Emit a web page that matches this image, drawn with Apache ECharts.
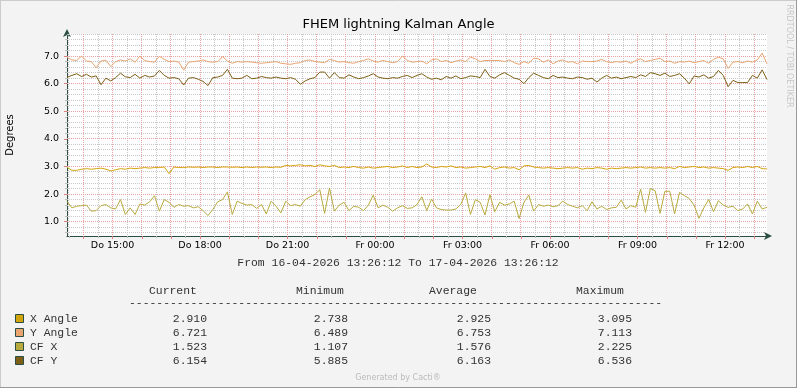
<!DOCTYPE html>
<html><head><meta charset="utf-8">
<script src="https://cdn.jsdelivr.net/npm/echarts@6/dist/echarts.min.js"></script>
<style>html,body{margin:0;padding:0;background:#F3F3F3}#c{width:797px;height:388px}</style>
</head><body><div id="c"></div>
<script>
const TITLE = 'FHEM lightning Kalman Angle';
const Y_NAME = 'Degrees';
const RANGE_TEXT = 'From 16-04-2026 13:26:12 To 17-04-2026 13:26:12';
const START_MIN = 806.2;   // 16-04-2026 13:26:12, minutes after 16-04 00:00
const STEP_MIN = 10;
const SPAN_MIN = 1440;
const xTickValues = [900, 1080, 1260, 1440, 1620, 1800, 1980, 2160];
const xTickLabels = ['Do 15:00','Do 18:00','Do 21:00','Fr 00:00','Fr 03:00','Fr 06:00','Fr 09:00','Fr 12:00'];
const yTickValues = [1, 2, 3, 4, 5, 6, 7];
const yTickLabels = ['1.0','2.0','3.0','4.0','5.0','6.0','7.0'];
const Y_MIN = 0.48, Y_MAX = 7.8;

const seriesNames = ['X Angle', 'Y Angle', 'CF X', 'CF Y'];
const seriesColors = ['#D2A50C', '#E9A470', '#B9AA3E', '#7E5F16'];

const xAngle = [
2.97,2.86,2.86,2.90,2.92,2.90,2.92,2.94,2.90,2.84,
2.88,2.92,2.90,2.94,2.92,2.94,2.96,2.94,2.96,2.96,
2.98,2.74,2.98,2.96,2.96,2.98,2.97,2.98,2.96,2.98,
2.98,2.96,2.98,2.98,2.97,2.98,2.96,2.98,2.96,2.98,
2.97,2.98,2.96,2.98,2.97,3.04,3.02,3.04,3.06,3.02,
3.04,3.00,3.06,3.02,3.00,3.04,2.96,2.98,2.96,3.00,
2.96,2.94,2.98,2.94,2.96,2.98,3.00,2.96,2.98,3.02,
2.96,3.00,
2.96,2.98,3.09,2.98,2.96,3.00,2.98,3.02,2.96,2.98,
2.94,2.96,2.98,3.00,2.96,3.02,2.90,2.96,2.98,2.94,
2.96,2.88,3.02,3.04,2.98,2.96,2.94,2.96,2.94,2.92,
2.94,2.96,2.94,2.96,2.90,2.94,2.92,2.96,2.94,2.90,
2.94,2.92,2.94,2.96,2.94,2.96,2.98,2.94,2.96,2.94,
2.96,2.94,2.96,2.92,3.00,2.96,2.98,3.00,2.96,2.98,
2.94,2.96,2.94,2.92,2.86,2.96,2.98,2.96,3.00,2.96,
3.00,2.92,2.91];

const yAngle = [
6.95,6.86,6.84,7.00,6.82,6.80,6.58,6.82,6.85,6.62,
6.80,6.86,6.82,6.90,6.78,7.00,6.84,6.80,6.78,6.99,
6.88,6.80,6.82,6.78,6.49,6.78,6.80,6.82,6.86,6.80,
6.78,6.80,6.98,6.82,6.74,6.80,6.78,6.80,6.78,6.76,
6.74,6.76,6.78,6.80,6.74,6.72,6.70,6.74,6.76,6.84,
6.86,6.80,6.78,6.76,6.88,6.84,6.78,6.80,6.76,6.74,
6.80,6.84,6.90,6.82,6.78,6.84,6.80,6.76,6.80,7.00,
6.84,6.78,
6.80,6.82,6.72,6.86,6.90,6.80,6.84,6.76,6.82,6.86,
6.80,6.96,6.90,6.80,6.84,6.84,6.84,6.84,6.80,6.86,
6.76,6.70,6.80,6.74,6.92,6.90,6.78,6.86,6.72,6.82,
6.86,6.78,6.80,6.72,6.82,6.80,6.80,6.82,6.88,6.80,
6.76,6.80,6.78,6.82,6.74,6.84,6.90,6.80,6.84,6.88,
6.92,6.80,6.82,6.74,6.80,6.78,6.82,6.76,6.80,6.84,
6.74,6.88,6.96,6.90,6.55,6.78,6.80,6.76,6.82,6.78,
6.86,7.11,6.72];

const cfX = [
1.74,1.50,1.56,1.58,1.60,1.38,1.40,1.58,1.62,1.50,
1.46,1.80,1.26,1.50,1.26,1.64,1.60,1.72,1.94,1.38,
1.80,1.70,1.52,1.62,1.56,1.58,1.50,1.54,1.40,1.22,
1.44,1.72,1.80,2.08,1.26,1.74,1.66,1.60,1.62,1.48,
1.62,1.28,1.74,1.56,1.32,1.74,1.58,1.62,1.56,1.80,
1.90,1.98,2.16,1.30,2.22,1.38,1.60,1.70,1.40,1.56,
1.52,1.40,1.60,1.96,1.50,1.60,1.52,1.38,1.50,1.58,
1.48,1.50,
1.62,1.90,1.40,1.82,1.50,1.44,1.42,1.42,1.46,1.62,
2.04,1.26,1.80,1.70,1.24,1.98,1.36,1.70,1.60,1.64,
1.74,1.11,1.70,1.96,1.38,1.62,1.56,1.60,1.54,1.58,
1.74,1.62,1.56,1.50,1.58,1.40,1.72,1.46,1.56,1.44,
1.50,1.52,1.78,1.46,1.58,1.52,2.18,1.34,2.20,2.12,
1.30,2.10,2.10,1.28,2.06,1.94,1.84,1.60,1.12,1.50,
1.80,1.36,1.76,1.60,1.52,1.56,1.40,1.46,1.64,1.28,
1.74,1.46,1.52];

const cfY = [
6.23,6.30,6.36,6.26,6.34,6.24,6.28,5.96,6.20,6.10,
6.22,6.38,6.25,6.22,6.34,6.20,6.30,6.24,6.28,6.48,
6.30,6.20,6.22,6.18,5.95,6.20,6.22,6.16,6.08,5.93,
6.22,6.24,6.30,6.52,6.20,6.18,6.20,6.30,6.18,6.20,
6.26,6.22,6.20,6.24,6.20,6.18,6.22,6.16,5.98,6.10,
6.18,6.22,6.42,6.42,6.20,6.40,6.22,6.20,6.32,6.24,
6.18,6.22,6.28,6.36,6.24,6.20,6.18,6.22,6.20,6.26,
6.30,6.22,
6.30,6.36,6.24,6.16,6.20,6.14,6.26,6.20,6.28,6.18,
6.22,6.28,6.26,6.22,6.52,6.26,6.20,6.32,6.40,6.30,
6.20,6.16,6.00,6.22,6.38,6.30,6.22,6.18,6.30,6.22,
6.24,6.20,6.18,6.24,6.22,6.16,6.20,6.06,6.20,6.30,
6.20,6.24,6.18,6.22,6.26,6.22,6.32,6.26,6.40,6.36,
6.30,6.38,6.26,6.30,6.36,6.20,5.99,6.28,6.24,6.32,
6.20,6.26,6.48,6.30,5.89,6.12,6.04,6.04,6.04,6.30,
6.20,6.50,6.15];

const statCurrent = ['2.910', '6.721', '1.523', '6.154'];
const statMinimum = ['2.738', '6.489', '1.107', '5.885'];
const statAverage = ['2.925', '6.753', '1.576', '6.163'];
const statMaximum = ['3.095', '7.113', '2.225', '6.536'];
const statHeaders = ['Current', 'Minimum', 'Average', 'Maximum'];

const seriesValues = [xAngle, yAngle, cfX, cfY];

// grid / tick positions
const X_MIN = START_MIN, X_MAX = START_MIN + SPAN_MIN;
const halfHoursAll = [];
for (let t = Math.ceil(X_MIN / 30) * 30; t <= X_MAX; t += 30) halfHoursAll.push(t);
const hours = halfHoursAll.filter(t => t % 60 === 0);
const halfHours = halfHoursAll.filter(t => t % 60 !== 0);
const yMinorAll = [];
for (let k = Math.ceil(Y_MIN / 0.2); k * 0.2 <= Y_MAX + 1e-9; k++) yMinorAll.push(+(k * 0.2).toFixed(1));
const yMinor = yMinorAll.filter(v => Math.abs(v - Math.round(v)) > 1e-6);

const AXIS_COLOR = '#2C4D43';
const GRID_GRAY = '#C8C8C8';
const GRID_RED = '#E8A2A2';
const AX_FONT = 'DejaVu Sans';
const MONO = 'Liberation Mono';

function tickAxis(values, tickColor, tickLen, isX) {
  return {
    type: 'value', min: isX ? X_MIN : Y_MIN, max: isX ? X_MAX : Y_MAX,
    position: isX ? 'bottom' : 'left',
    axisLine: { show: false, onZero: false },
    axisTick: { show: true, customValues: values, length: tickLen, lineStyle: { color: tickColor, width: 1 } },
    axisLabel: { show: false },
    splitLine: { show: false }
  };
}

const chart = echarts.init(document.getElementById('c'), null, { renderer: 'canvas' });

const baseGraphics = [];
const rowY = [319, 333, 347, 361];
const colRight = [207, 348, 491, 632];
const headLeft = [149, 296, 429, 576];
const stats = [statCurrent, statMinimum, statAverage, statMaximum];
const monoStyle = (txt, x, y, align) => ({ type: 'text', x: x, y: y, silent: true,
  style: { text: txt, font: '11.4px ' + MONO, fill: '#333', textAlign: align, textVerticalAlign: 'middle' } });
baseGraphics.push(
  { type: 'text', x: 10, y: 135, rotation: Math.PI / 2, silent: true,
    style: { text: Y_NAME, font: '10px ' + AX_FONT, fill: '#000', textAlign: 'center', textVerticalAlign: 'middle' } },
  { type: 'text', x: 789, y: 56, rotation: -Math.PI / 2, silent: true,
    style: { text: 'RRDTOOL / TOBI OETIKER', font: '8px ' + AX_FONT, fill: '#C6C6C6', textAlign: 'center', textVerticalAlign: 'middle' } },
  { type: 'text', x: 398, y: 378, silent: true,
    style: { text: 'Generated by Cacti®', font: '8px ' + AX_FONT, fill: '#BBBBBB', textAlign: 'center', textVerticalAlign: 'middle' } },
  { type: 'line', silent: true, shape: { x1: 0, y1: 0.5, x2: 797, y2: 0.5 }, style: { stroke: '#CBCBCB', lineWidth: 1 } },
  { type: 'line', silent: true, shape: { x1: 0.5, y1: 0, x2: 0.5, y2: 388 }, style: { stroke: '#CBCBCB', lineWidth: 1 } },
  { type: 'line', silent: true, shape: { x1: 796.5, y1: 0, x2: 796.5, y2: 388 }, style: { stroke: '#999999', lineWidth: 1 } },
  { type: 'line', silent: true, shape: { x1: 0, y1: 387.5, x2: 797, y2: 387.5 }, style: { stroke: '#999999', lineWidth: 1 } }
);
statHeaders.forEach((h, j) => baseGraphics.push(monoStyle(h, headLeft[j], 291, 'left')));
baseGraphics.push(monoStyle('-'.repeat(78), 129, 303, 'left'));
baseGraphics.push(monoStyle(RANGE_TEXT, 398, 263, 'center'));
seriesNames.forEach((n, i) => {
  baseGraphics.push({ type: 'rect', silent: true, shape: { x: 15.5, y: rowY[i] - 4.5, width: 8, height: 8 },
    style: { fill: seriesColors[i], stroke: AXIS_COLOR, lineWidth: 1 } });
  baseGraphics.push(monoStyle(n, 30, rowY[i], 'left'));
  stats.forEach((s, j) => baseGraphics.push(monoStyle(s[i], colRight[j], rowY[i], 'right')));
});

const option = {
  animation: false,
  backgroundColor: '#F3F3F3',
  grid: { left: 67, right: 30, top: 34, bottom: 152, show: true, backgroundColor: '#FFFFFF', borderWidth: 0, containLabel: false },
  title: { text: TITLE, left: 'center', top: 13, textStyle: { fontFamily: AX_FONT, fontSize: 13, fontWeight: 'normal', color: '#000' } },
  xAxis: [
    tickAxis(halfHours, '#BBBBBB', 2, true),
    tickAxis(hours, '#D98080', 3, true),
    { type: 'value', min: X_MIN, max: X_MAX, position: 'bottom',
      axisLine: { show: true, onZero: false, lineStyle: { color: AXIS_COLOR, width: 1 }, symbol: ['none', 'arrow'], symbolSize: [6, 8], symbolOffset: [0, 5] },
      axisTick: { show: false, customValues: xTickValues },
      axisLabel: { customValues: xTickValues, margin: 5, fontFamily: AX_FONT, fontSize: 9.5, color: '#000',
        formatter: v => xTickLabels[xTickValues.indexOf(v)] },
      splitLine: { show: false } }
  ],
  yAxis: [
    tickAxis(yMinor, '#BBBBBB', 2, false),
    tickAxis(yTickValues, '#D98080', 3, false),
    { type: 'value', min: Y_MIN, max: Y_MAX, position: 'left',
      axisLine: { show: true, onZero: false, lineStyle: { color: AXIS_COLOR, width: 1 }, symbol: ['none', 'arrow'], symbolSize: [6, 8], symbolOffset: [0, 5] },
      axisTick: { show: false, customValues: yTickValues },
      axisLabel: { customValues: yTickValues, margin: 8, fontFamily: AX_FONT, fontSize: 9.5, color: '#000',
        formatter: v => yTickLabels[yTickValues.indexOf(v)] },
      splitLine: { show: false } }
  ],
  series: seriesNames.map((n, i) => ({
    name: n, type: 'line', xAxisIndex: 2, yAxisIndex: 2, symbol: 'none', silent: true,
    lineStyle: { color: seriesColors[i], width: 1 },
    data: seriesValues[i].map((v, k) => [START_MIN + k * STEP_MIN, v]),
    z: 3
  })),
  graphic: baseGraphics
};
chart.setOption(option);

// dotted grid lines, snapped to pixel centres, positioned through the axes' scales
const gl = chart.convertToPixel({ xAxisIndex: 2 }, X_MIN);
const gr = chart.convertToPixel({ xAxisIndex: 2 }, X_MAX);
const gt = chart.convertToPixel({ yAxisIndex: 2 }, Y_MAX);
const gb = chart.convertToPixel({ yAxisIndex: 2 }, Y_MIN);
const snap = p => Math.round(p - 0.5) + 0.5;
const gridGraphics = [];
const vLine = (t, c) => { const x = snap(chart.convertToPixel({ xAxisIndex: 2 }, t));
  gridGraphics.push({ type: 'line', silent: true, z: 1, shape: { x1: x, y1: gt, x2: x, y2: gb },
    style: { stroke: c, lineWidth: 1, lineDash: [1, 1] } }); };
const hLine = (v, c) => { const y = snap(chart.convertToPixel({ yAxisIndex: 2 }, v));
  gridGraphics.push({ type: 'line', silent: true, z: 1, shape: { x1: gl, y1: y, x2: gr, y2: y },
    style: { stroke: c, lineWidth: 1, lineDash: [1, 1] } }); };
halfHours.forEach(t => vLine(t, GRID_GRAY));
yMinor.forEach(v => hLine(v, GRID_GRAY));
hours.forEach(t => vLine(t, GRID_RED));
yTickValues.forEach(v => hLine(v, GRID_RED));
chart.setOption({ graphic: baseGraphics.concat(gridGraphics) });
</script></body></html>
